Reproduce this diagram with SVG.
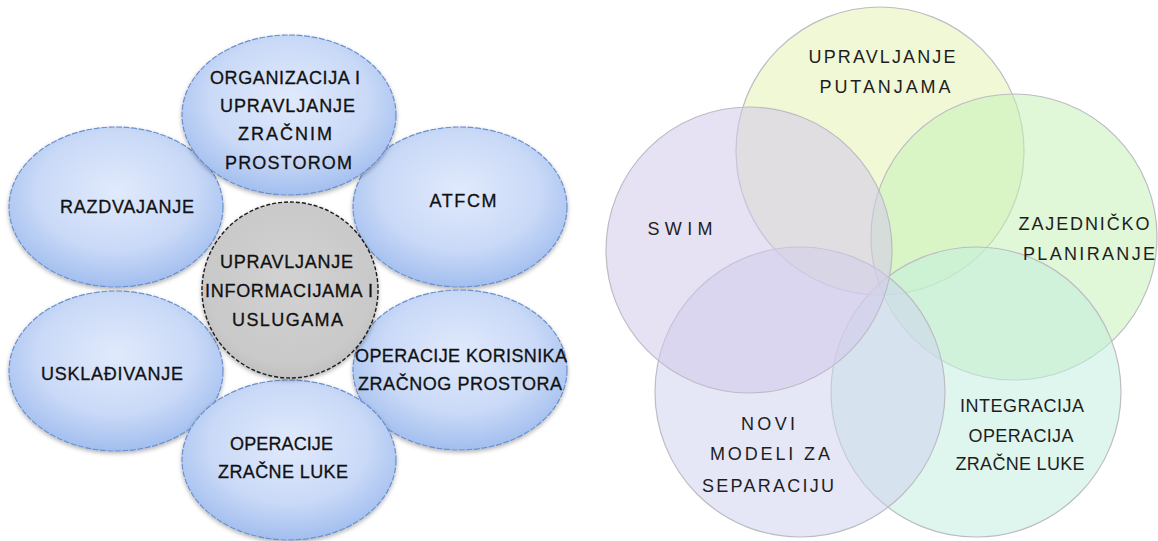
<svg xmlns="http://www.w3.org/2000/svg" width="1158" height="541" viewBox="0 0 1158 541">
<defs>
<radialGradient id="blueG" cx="0.5" cy="0.4" r="0.62">
<stop offset="0" stop-color="#e1eafc"/>
<stop offset="0.6" stop-color="#c9d9f7"/>
<stop offset="1" stop-color="#9fbcee"/>
</radialGradient>
<radialGradient id="grayG" cx="0.5" cy="0.45" r="0.6">
<stop offset="0" stop-color="#d2d2d2"/>
<stop offset="0.8" stop-color="#c9c9c9"/>
<stop offset="1" stop-color="#bababa"/>
</radialGradient>
<filter id="sh" x="-10%" y="-10%" width="120%" height="125%">
<feDropShadow dx="0" dy="2" stdDeviation="2" flood-color="#000" flood-opacity="0.3"/>
</filter>
</defs>
<style>
.bl{fill:url(#blueG);stroke:#6b90cf;stroke-width:1.2;stroke-dasharray:6 1.5;filter:url(#sh)}
.gr{fill:url(#grayG);stroke:#1e1e1e;stroke-width:1.4;stroke-dasharray:4 2;filter:url(#sh)}
.lt{font-family:"Liberation Sans",Arial,sans-serif;font-size:18px;fill:#111;stroke:#111;stroke-width:0.3;text-anchor:middle}
.vc{stroke:#bcbcc4;stroke-width:1.2;fill-opacity:0.55}
.vt{font-family:"Liberation Sans",Arial,sans-serif;font-size:18px;fill:#1e1e1e;text-anchor:middle}
</style>
<rect width="1158" height="541" fill="#ffffff"/>
<g id="connectors"/>
<g id="node-razdvajanje">
<ellipse class="bl" cx="116" cy="207" rx="107" ry="80"/>
<text class="lt" x="127" y="213" textLength="134" lengthAdjust="spacing">RAZDVAJANJE</text>
</g>
<g id="node-atfcm">
<ellipse class="bl" cx="460" cy="207" rx="107" ry="80"/>
<text class="lt" x="463" y="207" textLength="67" lengthAdjust="spacing">ATFCM</text>
</g>
<g id="node-uskladivanje">
<ellipse class="bl" cx="116" cy="371" rx="107" ry="80"/>
<text class="lt" x="112" y="380" textLength="142" lengthAdjust="spacing">USKLAĐIVANJE</text>
</g>
<g id="node-operacije-korisnika">
<ellipse class="bl" cx="460" cy="370" rx="107" ry="80"/>
<text class="lt" x="461" y="362" textLength="212" lengthAdjust="spacing">OPERACIJE KORISNIKA</text>
<text class="lt" x="460" y="390" textLength="204" lengthAdjust="spacing">ZRAČNOG PROSTORA</text>
</g>
<g id="node-organizacija">
<ellipse class="bl" cx="289" cy="115" rx="107" ry="80"/>
<text class="lt" x="285" y="84" textLength="150" lengthAdjust="spacing">ORGANIZACIJA I</text>
<text class="lt" x="287.5" y="112" textLength="135" lengthAdjust="spacing">UPRAVLJANJE</text>
<text class="lt" x="285" y="140" textLength="94" lengthAdjust="spacing">ZRAČNIM</text>
<text class="lt" x="288.5" y="169" textLength="127" lengthAdjust="spacing">PROSTOROM</text>
</g>
<g id="node-operacije-zracne-luke">
<ellipse class="bl" cx="289" cy="460" rx="107" ry="80"/>
<text class="lt" x="281.5" y="450" textLength="103" lengthAdjust="spacing">OPERACIJE</text>
<text class="lt" x="283" y="478" textLength="130" lengthAdjust="spacing">ZRAČNE LUKE</text>
</g>
<g id="node-upravljanje-informacijama">
<circle class="gr" cx="290" cy="290" r="88"/>
<text class="lt" x="286.5" y="268" textLength="133" lengthAdjust="spacing">UPRAVLJANJE</text>
<text class="lt" x="289" y="297" textLength="168" lengthAdjust="spacing">INFORMACIJAMA I</text>
<text class="lt" x="287.5" y="326" textLength="111" lengthAdjust="spacing">USLUGAMA</text>
</g>
<g id="venn-upravljanje-putanjama">
<circle class="vc" cx="880" cy="151" r="144" fill="#e3f3b3"/>
</g>
<g id="venn-zajednicko-planiranje">
<circle class="vc" cx="1014" cy="237" r="143" fill="#c6f0b8"/>
</g>
<g id="venn-integracija">
<circle class="vc" cx="976" cy="392" r="145" fill="#c2eedf"/>
</g>
<g id="venn-novi-modeli">
<circle class="vc" cx="800" cy="392" r="145" fill="#cfd3ef"/>
</g>
<g id="venn-swim">
<circle class="vc" cx="749" cy="250" r="143" fill="#d4c8eb"/>
</g>
<g id="venn-labels">
<text class="vt" x="882" y="63" textLength="147" lengthAdjust="spacing">UPRAVLJANJE</text>
<text class="vt" x="885" y="93" textLength="131" lengthAdjust="spacing">PUTANJAMA</text>
<text class="vt" x="680" y="235" textLength="65" lengthAdjust="spacing">SWIM</text>
<text class="vt" x="1084" y="230" textLength="131" lengthAdjust="spacing">ZAJEDNIČKO</text>
<text class="vt" x="1089" y="260" textLength="132" lengthAdjust="spacing">PLANIRANJE</text>
<text class="vt" x="768" y="430" textLength="54" lengthAdjust="spacing">NOVI</text>
<text class="vt" x="770" y="460" textLength="120" lengthAdjust="spacing">MODELI ZA</text>
<text class="vt" x="768" y="492" textLength="132" lengthAdjust="spacing">SEPARACIJU</text>
<text class="vt" x="1022" y="412" textLength="124" lengthAdjust="spacing">INTEGRACIJA</text>
<text class="vt" x="1021" y="442" textLength="105" lengthAdjust="spacing">OPERACIJA</text>
<text class="vt" x="1020" y="470" textLength="129" lengthAdjust="spacing">ZRAČNE LUKE</text>
</g>
</svg>
